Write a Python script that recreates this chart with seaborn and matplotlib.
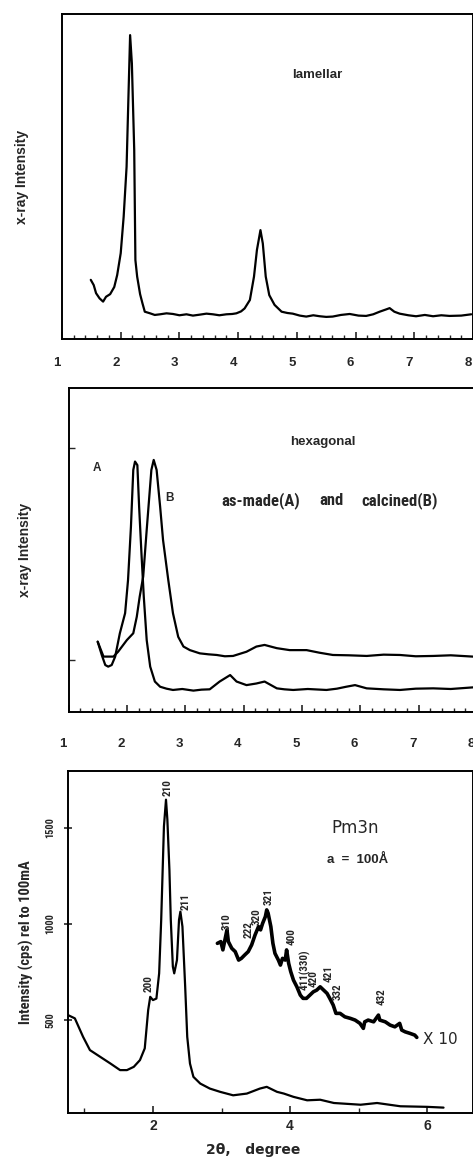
import matplotlib
matplotlib.use("Agg")
import matplotlib.pyplot as plt
import seaborn as sns
from matplotlib import font_manager as fm
from matplotlib.transforms import ScaledTranslation
from matplotlib.ticker import MultipleLocator, FixedLocator

# ---------------- lamellar pattern ----------------
lam_x = [1.49, 1.54, 1.58, 1.64, 1.70, 1.75, 1.82, 1.89, 1.94, 2.00, 2.05, 2.10,
         2.13, 2.16, 2.19, 2.23, 2.25, 2.28, 2.33, 2.37, 2.41, 2.50, 2.58, 2.67,
         2.78, 2.89, 3.00, 3.12, 3.23, 3.35, 3.46, 3.57, 3.68, 3.80, 3.90, 3.97,
         4.05, 4.11, 4.20, 4.27, 4.32, 4.38, 4.42, 4.47, 4.53, 4.62, 4.74, 4.84,
         4.93, 5.05, 5.16, 5.28, 5.39, 5.50, 5.61, 5.75, 5.90, 6.05, 6.18, 6.30,
         6.41, 6.52, 6.58, 6.66, 6.75, 6.90, 7.03, 7.18, 7.32, 7.46, 7.60, 7.80, 7.97]
lam_y = [18.2, 16.6, 14.1, 12.5, 11.5, 13.0, 13.8, 16.0, 19.7, 26.4, 37.6, 53.0,
         73.5, 93.5, 84.8, 58.2, 24.3, 19.2, 13.8, 11.0, 8.4, 7.9, 7.4, 7.6,
         7.9, 7.7, 7.3, 7.6, 7.2, 7.5, 7.8, 7.6, 7.3, 7.6, 7.7, 7.9,
         8.5, 9.4, 12.0, 19.2, 27.4, 33.5, 29.4, 19.2, 13.5, 10.5, 8.4, 8.0,
         7.8, 7.2, 6.9, 7.3, 7.0, 6.8, 6.9, 7.4, 7.7, 7.2, 7.1, 7.6,
         8.4, 9.1, 9.5, 8.4, 7.8, 7.3, 7.0, 7.4, 7.0, 7.3, 7.1, 7.2, 7.6]

# ---------------- hexagonal patterns ----------------
hexA_x = [1.50, 1.57, 1.63, 1.68, 1.74, 1.80, 1.88, 1.97, 2.02, 2.07, 2.11, 2.14,
          2.18, 2.21, 2.25, 2.29, 2.34, 2.40, 2.48, 2.57, 2.68, 2.79, 2.95, 3.14,
          3.28, 3.42, 3.59, 3.77, 3.88, 4.05, 4.22, 4.36, 4.57, 4.70, 4.85, 5.10,
          5.42, 5.60, 5.76, 5.91, 6.11, 6.40, 6.68, 6.95, 7.25, 7.55, 7.93]
hexA_y = [21.7, 17.6, 14.5, 14.0, 14.5, 17.1, 24.3, 30.5, 40.7, 57.2, 74.7, 77.3,
          76.2, 63.4, 49.0, 35.6, 22.2, 14.0, 9.4, 7.8, 7.2, 6.8, 7.1, 6.6,
          6.9, 7.0, 9.4, 11.4, 9.4, 8.3, 8.8, 9.4, 7.3, 7.0, 6.8, 7.1,
          6.8, 7.2, 7.8, 8.3, 7.3, 7.0, 6.8, 7.2, 7.3, 7.1, 7.6]

hexB_x = [1.50, 1.60, 1.77, 1.85, 2.00, 2.11, 2.17, 2.22, 2.28, 2.34, 2.42, 2.46,
          2.51, 2.57, 2.62, 2.71, 2.79, 2.88, 2.97, 3.08, 3.25, 3.40, 3.54, 3.68,
          3.82, 4.05, 4.22, 4.36, 4.57, 4.79, 5.08, 5.30, 5.53, 5.80, 6.11, 6.40,
          6.68, 6.95, 7.25, 7.55, 7.93]
hexB_y = [21.7, 17.1, 17.1, 18.6, 22.2, 24.3, 29.4, 35.6, 41.8, 56.2, 74.7, 77.8,
          74.7, 63.4, 53.1, 40.7, 30.5, 23.2, 20.2, 19.1, 18.1, 17.8, 17.6, 17.2,
          17.3, 18.6, 20.2, 20.7, 19.7, 19.1, 19.1, 18.3, 17.6, 17.5, 17.3, 17.7,
          17.6, 17.2, 17.3, 17.5, 17.1]

# ---------------- cubic Pm3n pattern ----------------
cub_x = [0.76, 0.86, 0.98, 1.08, 1.23, 1.38, 1.52, 1.62, 1.72, 1.81, 1.88, 1.93,
         1.96, 2.00, 2.05, 2.09, 2.12, 2.16, 2.19, 2.21, 2.24, 2.26, 2.29, 2.31,
         2.35, 2.38, 2.40, 2.43, 2.47, 2.50, 2.54, 2.59, 2.69, 2.83, 2.98, 3.17,
         3.37, 3.56, 3.66, 3.81, 3.91, 4.05, 4.25, 4.44, 4.64, 5.03, 5.27, 5.61,
         6.00, 6.24]
cub_y = [526, 509, 413, 344, 309, 274, 240, 240, 257, 292, 353, 552,
         621, 604, 612, 743, 1021, 1507, 1646, 1542, 1281, 1021, 778, 743,
         812, 1021, 1064, 986, 673, 413, 274, 205, 170, 144, 127, 109,
         118, 144, 153, 127, 118, 101, 83, 86, 69, 60, 69, 52,
         49, 45]

# high-angle region, intensity scaled x10
cub10_x = [2.94, 2.99, 3.02, 3.05, 3.08, 3.10, 3.15, 3.20, 3.25, 3.29, 3.34, 3.39,
           3.44, 3.49, 3.54, 3.57, 3.60, 3.64, 3.66, 3.68, 3.72, 3.75, 3.78, 3.83,
           3.86, 3.89, 3.93, 3.95, 3.98, 4.01, 4.05, 4.10, 4.15, 4.19, 4.24, 4.29,
           4.34, 4.39, 4.44, 4.49, 4.54, 4.58, 4.63, 4.67, 4.73, 4.80, 4.88, 4.95,
           5.02, 5.07, 5.09, 5.14, 5.22, 5.29, 5.31, 5.39, 5.46, 5.53, 5.60, 5.63,
           5.68, 5.75, 5.82, 5.85]
cub10_y = [899, 908, 865, 917, 969, 908, 873, 856, 812, 821, 839, 856,
           891, 943, 986, 969, 1003, 1038, 1073, 1056, 986, 899, 847, 812,
           786, 821, 812, 865, 795, 752, 708, 673, 630, 613, 613, 630,
           647, 656, 673, 656, 639, 613, 578, 535, 535, 517, 509, 500,
           483, 457, 491, 500, 491, 526, 500, 491, 474, 465, 483, 448,
           439, 431, 422, 410]

peak_labels = ["200", "210", "211", "310", "222", "320", "321", "400",
               "411(330)", "420", "421", "332", "432"]
peak_x = [1.93, 2.22, 2.47, 3.08, 3.39, 3.51, 3.69, 4.03, 4.22, 4.35, 4.56, 4.69, 5.34]
peak_y = [691, 1707, 1116, 1012, 969, 1038, 1142, 934, 760, 717, 743, 647, 621]

x_ticks_top = [1, 2, 3, 4, 5, 6, 7, 8]
x_ticks_cub = [2, 4, 6]
y_ticks_cub = [500, 1000, 1500]

sns.set_style("white")
plt.rcParams['font.family'] = ['Liberation Sans', 'DejaVu Sans']


def narrow_font(weight="bold"):
    """Pick a condensed face when one is installed, else Liberation Sans."""
    for fam in ["Liberation Sans Narrow", "Roboto Condensed", "Open Sans Condensed"]:
        try:
            fm.findfont(fm.FontProperties(family=fam, weight=weight),
                        fallback_to_default=False)
            return fm.FontProperties(family=fam, weight=weight), True
        except ValueError:
            pass
    fp = fm.FontProperties(family="DejaVu Sans", stretch="condensed", weight=weight)
    path = fm.findfont(fp)
    if "Condensed" in path:
        return fp, True
    return fm.FontProperties(family="Liberation Sans", weight=weight), False


NARROW, HAS_NARROW = narrow_font()

W, H = 473, 1157
fig = plt.figure(figsize=(W / 100, H / 100), dpi=100)


def px_axes(left, top, right, bottom):
    return fig.add_axes([left / W, 1 - bottom / H, (right - left) / W, (bottom - top) / H])


def frame(ax):
    for s in ax.spines.values():
        s.set_visible(True)
        s.set_color("black")
        s.set_linewidth(1.4)


def shift_labels(ax, dx_px):
    off = ScaledTranslation(dx_px / 100, 0, fig.dpi_scale_trans)
    for lab in ax.get_xticklabels():
        lab.set_transform(lab.get_transform() + off)


def nfp(size):
    fp = NARROW.copy()
    fp.set_size(size)
    return fp


line_kw = dict(sort=False, estimator=None, color="black", linewidth=1.6)

# ---- panel 1: lamellar ----
ax1 = px_axes(62, 14, 473, 339)
sns.lineplot(x=lam_x, y=lam_y, ax=ax1, **line_kw)
ax1.set_xlim(1, 8)
ax1.set_ylim(0, 100)
ax1.xaxis.set_major_locator(FixedLocator(x_ticks_top))
ax1.xaxis.set_minor_locator(MultipleLocator(0.2))
ax1.set_yticks([])
ax1.tick_params(axis="x", which="major", direction="in", length=5, width=1.2,
                pad=13, labelsize=9.5, bottom=True)
ax1.tick_params(axis="x", which="minor", direction="in", length=3, width=1.0, bottom=True)
for lab in ax1.get_xticklabels():
    lab.set_fontweight("bold")
shift_labels(ax1, -5)
frame(ax1)
ax1.set_ylabel("x-ray Intensity", fontsize=10, fontweight="bold", labelpad=24)
ax1.text(0.62, 0.812, "lamellar", transform=ax1.transAxes, ha="center", va="center",
         fontsize=9.5, fontweight="bold")

# ---- panel 2: hexagonal ----
ax2 = px_axes(68.5, 388, 477, 712)
sns.lineplot(x=hexA_x, y=hexA_y, ax=ax2, **line_kw)
sns.lineplot(x=hexB_x, y=hexB_y, ax=ax2, **line_kw)
ax2.set_xlim(1, 8)
ax2.set_ylim(0, 100)
ax2.xaxis.set_major_locator(FixedLocator(x_ticks_top))
ax2.xaxis.set_minor_locator(MultipleLocator(0.2))
ax2.yaxis.set_major_locator(FixedLocator([16, 81.5]))
ax2.tick_params(axis="y", which="major", direction="in", length=4, width=1.0,
                left=True, labelleft=False)
ax2.tick_params(axis="x", which="major", direction="in", length=5, width=1.2,
                pad=19, labelsize=9.5, bottom=True)
ax2.tick_params(axis="x", which="minor", direction="in", length=3, width=1.0, bottom=True)
for lab in ax2.get_xticklabels():
    lab.set_fontweight("bold")
shift_labels(ax2, -6)
frame(ax2)
ax2.set_ylabel("x-ray Intensity", fontsize=10, fontweight="bold", labelpad=26)
ax2.text(0.623, 0.833, "hexagonal", transform=ax2.transAxes, ha="center", va="center",
         fontsize=9.5, fontweight="bold")
ax2.text(0.07, 0.753, "A", transform=ax2.transAxes, ha="center", va="center",
         fontsize=8.5, fontweight="bold")
ax2.text(0.248, 0.66, "B", transform=ax2.transAxes, ha="center", va="center",
         fontsize=8.5, fontweight="bold")
cap_size = 12 if HAS_NARROW else 9
for txt, xf in [("as-made(A)", 0.471), ("and", 0.645), ("calcined(B)", 0.811)]:
    ax2.text(xf, 0.654, txt, transform=ax2.transAxes, ha="center", va="center",
             fontproperties=nfp(cap_size))

# ---- panel 3: cubic Pm3n ----
ax3 = px_axes(68, 771, 473, 1113)
sns.lineplot(x=cub_x, y=cub_y, ax=ax3, **line_kw)
sns.lineplot(x=cub10_x, y=cub10_y, ax=ax3, sort=False, estimator=None,
             color="black", linewidth=2.6)
ax3.set_xlim(0.76, 6.67)
ax3.set_ylim(17, 1795)
ax3.xaxis.set_major_locator(FixedLocator(x_ticks_cub))
ax3.xaxis.set_minor_locator(FixedLocator([1, 3, 5]))
ax3.yaxis.set_major_locator(FixedLocator(y_ticks_cub))
ax3.tick_params(axis="x", which="major", direction="in", length=5, width=1.2,
                pad=4, labelsize=10, bottom=True)
ax3.tick_params(axis="x", which="minor", direction="in", length=3.5, width=1.0, bottom=True)
ax3.tick_params(axis="y", which="major", direction="inout", length=6, width=1.2,
                pad=6, left=True)
for lab in ax3.get_xticklabels():
    lab.set_fontweight("bold")
for lab in ax3.get_yticklabels():
    lab.set_rotation(90)
    lab.set_va("center")
    lab.set_fontproperties(nfp(7.5 if HAS_NARROW else 6.5))
frame(ax3)
ax3.set_ylabel("Intensity (cps) rel to 100mA",
               fontproperties=nfp(10.5 if HAS_NARROW else 8.5), labelpad=8)
ax3.set_xlabel("2θ,   degree", fontsize=10, fontweight="bold",
               family=["DejaVu Sans"])
ax3.xaxis.label.set_va("center")
ax3.xaxis.set_label_coords((253 - 68) / 405, -(1150 - 1113) / 342)
for lab, xp, yp in zip(peak_labels, peak_x, peak_y):
    ax3.text(xp, yp, lab, rotation=90, ha="center", va="center",
             fontproperties=nfp(8 if HAS_NARROW else 6))
ax3.text(4.95, 1498, "Pm3n", ha="center", va="center", fontsize=12, family=["DejaVu Sans"])
ax3.text(4.99, 1333, "a  =  100Å", ha="center", va="center", fontsize=9.5, fontweight="bold")
ax3.text(6.20, 401, "X 10", ha="center", va="center", fontsize=11, family=["DejaVu Sans"])

fig.savefig("out.png", dpi=100)
